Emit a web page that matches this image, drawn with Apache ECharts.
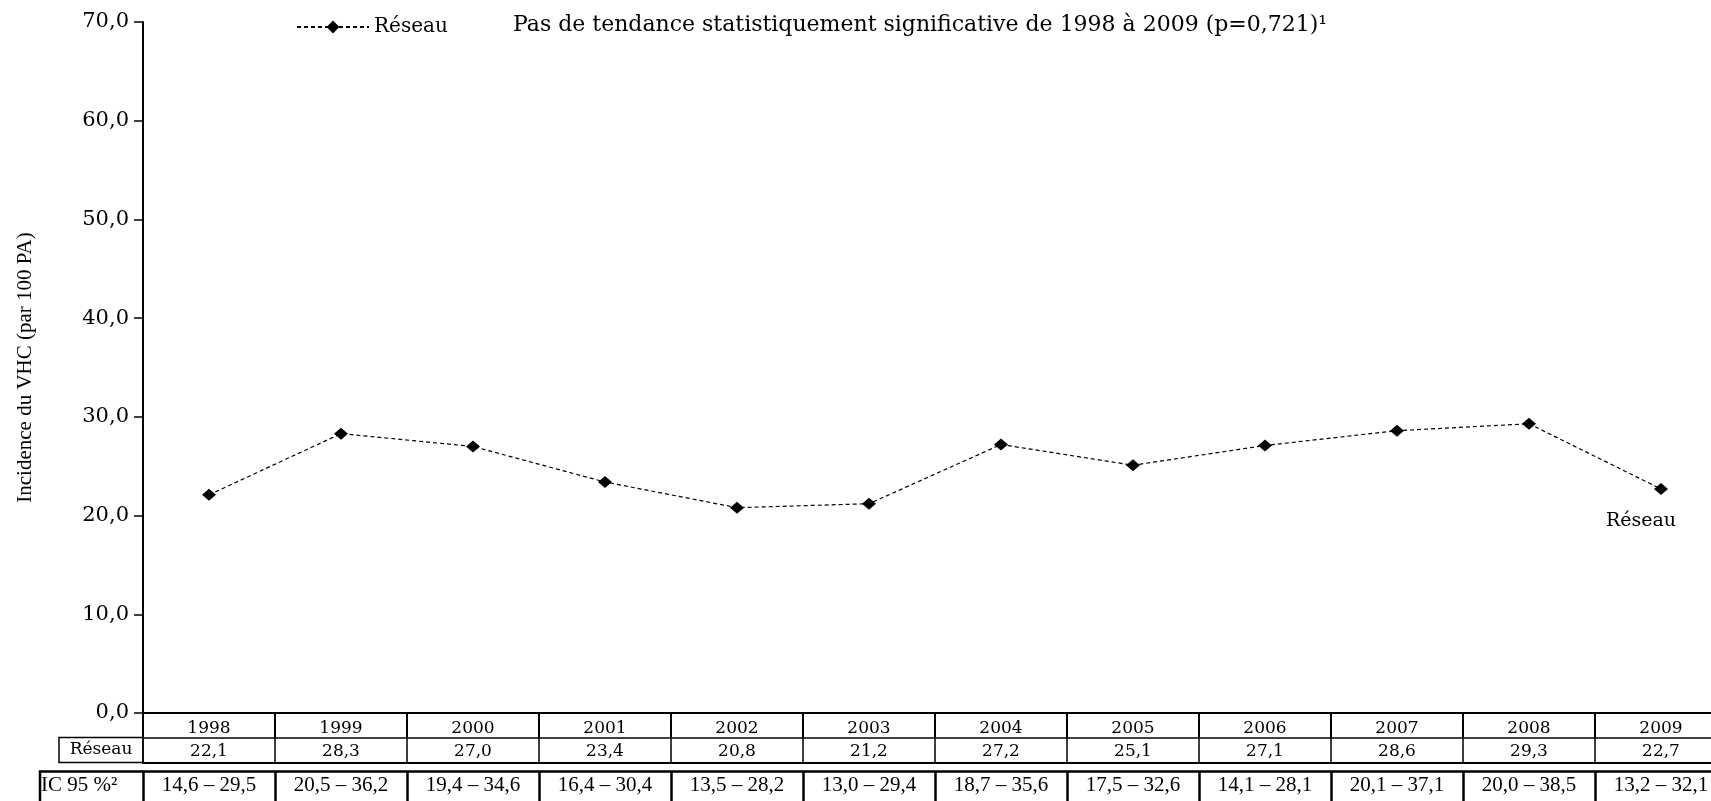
<!DOCTYPE html>
<html>
<head>
<meta charset="utf-8">
<script src="https://cdn.jsdelivr.net/npm/echarts@6/dist/echarts.min.js"></script>
<style>
html, body { margin: 0; padding: 0; background: #fff; overflow: hidden; }
/* le tableau déborde à droite comme dans l'original : le canevas est plus large que la fenêtre */
#chart { width: 1727px; height: 801px; }
</style>
</head>
<body>
<div id="chart"></div>
<script>
// données
const years = ['1998', '1999', '2000', '2001', '2002', '2003', '2004', '2005', '2006', '2007', '2008', '2009'];
const reseau = [22.1, 28.3, 27.0, 23.4, 20.8, 21.2, 27.2, 25.1, 27.1, 28.6, 29.3, 22.7];
const icLow = [14.6, 20.5, 19.4, 16.4, 13.5, 13.0, 18.7, 17.5, 14.1, 20.1, 20.0, 13.2];
const icHigh = [29.5, 36.2, 34.6, 30.4, 28.2, 29.4, 35.6, 32.6, 28.1, 37.1, 38.5, 32.1];
const yTicks = ['0,0', '10,0', '20,0', '30,0', '40,0', '50,0', '60,0', '70,0'];

const fr = v => v.toFixed(1).replace('.', ',');
const reseauLabels = reseau.map(fr);
const icLabels = icLow.map((lo, i) => fr(lo) + ' – ' + fr(icHigh[i]));

// mise en page
const H = 801;
const GRID_LEFT = 143, GRID_TOP = 22, GRID_BOTTOM = 88;
const AXIS_Y = H - GRID_BOTTOM;   // ligne 0,0
const ROW1 = 24.5, ROW2 = 25, IC_OFFSET = 58.5;
const WIDE = '"DejaVu Serif", serif';
const TIMES = '"Liberation Serif", serif';

const chart = echarts.init(document.getElementById('chart'));

function tableAxis(labels, offset, tickLen, lineW, label) {
	return {
		type: 'category',
		gridIndex: 0,
		position: 'bottom',
		offset: offset,
		data: labels,
		boundaryGap: true,
		axisLine: { onZero: false, lineStyle: { color: '#000', width: lineW } },
		axisTick: tickLen ? { show: true, interval: 0, length: tickLen, lineStyle: { color: '#000', width: lineW } } : { show: false },
		axisLabel: label ? Object.assign({ interval: 0, color: '#000' }, label) : { show: false },
		splitLine: { show: false }
	};
}

chart.setOption({
	animation: false,
	backgroundColor: '#fff',
	title: {
		text: 'Pas de tendance statistiquement significative de 1998 à 2009 (p=0,721)¹',
		left: 508,
		top: 9,
		textStyle: { fontFamily: WIDE, fontSize: 22, fontWeight: 'normal', color: '#000' }
	},
	legend: {
		data: ['Réseau'],
		left: 291,
		top: 12,
		itemWidth: 72,
		itemHeight: 16,
		itemGap: 8,
		textStyle: { fontFamily: WIDE, fontSize: 20, color: '#000' }
	},
	grid: {
		left: GRID_LEFT,
		right: 0,
		top: GRID_TOP,
		bottom: GRID_BOTTOM,
		containLabel: false
	},
	xAxis: [
		tableAxis(years, 0, ROW1, 2, { margin: 7, fontFamily: WIDE, fontSize: 17 }),
		tableAxis(reseauLabels, ROW1, ROW2, 1.5, { margin: 6, fontFamily: WIDE, fontSize: 17 }),
		tableAxis(years, ROW1 + ROW2, 0, 2, null),
		tableAxis(icLabels, IC_OFFSET, 40, 2.5, { margin: 3, fontFamily: TIMES, fontSize: 21 })
	],
	yAxis: {
		type: 'value',
		min: 0,
		max: 70,
		interval: 10,
		name: 'Incidence du VHC (par 100 PA)',
		nameLocation: 'middle',
		nameRotate: 90,
		nameGap: 107,
		nameTextStyle: { fontFamily: TIMES, fontSize: 21, color: '#000' },
		axisLine: { show: true, lineStyle: { color: '#000', width: 2 } },
		axisTick: { show: true, length: 9, lineStyle: { color: '#000', width: 1.5 } },
		axisLabel: {
			margin: 14,
			fontFamily: WIDE,
			fontSize: 21,
			color: '#000',
			formatter: v => yTicks[Math.round(v / 10)]
		},
		splitLine: { show: false }
	},
	series: [{
		name: 'Réseau',
		type: 'line',
		xAxisIndex: 0,
		data: reseau.map((v, i) => i === reseau.length - 1 ? {
			value: v,
			label: {
				show: true,
				position: 'bottom',
				distance: 17,
				offset: [-20, 0],
				formatter: 'Réseau',
				fontFamily: WIDE,
				fontSize: 19,
				color: '#000'
			}
		} : v),
		symbol: 'diamond',
		symbolSize: [14, 12],
		itemStyle: { color: '#000' },
		lineStyle: { color: '#000', width: 1.2, type: [4, 3] }
	}],
	graphic: [
		{
			type: 'rect',
			shape: { x: 59, y: AXIS_Y + ROW1, width: GRID_LEFT - 59, height: ROW2 },
			style: { fill: 'none', stroke: '#000', lineWidth: 1.5 }
		},
		{
			type: 'text',
			x: 101,
			y: AXIS_Y + ROW1 + ROW2 / 2,
			style: {
				text: 'Réseau', font: '17px ' + WIDE, fill: '#000',
				align: 'center', verticalAlign: 'middle', textAlign: 'center', textVerticalAlign: 'middle'
			}
		},
		{
			type: 'polyline',
			shape: { points: [[40, H + 2], [40, AXIS_Y + IC_OFFSET], [GRID_LEFT, AXIS_Y + IC_OFFSET]] },
			style: { fill: 'none', stroke: '#000', lineWidth: 2.5 }
		},
		{
			type: 'text',
			x: 41,
			y: AXIS_Y + IC_OFFSET + 14,
			style: {
				text: 'IC 95 %²', font: '21px ' + TIMES, fill: '#000',
				verticalAlign: 'middle', textVerticalAlign: 'middle'
			}
		}
	]
});
</script>
</body>
</html>
